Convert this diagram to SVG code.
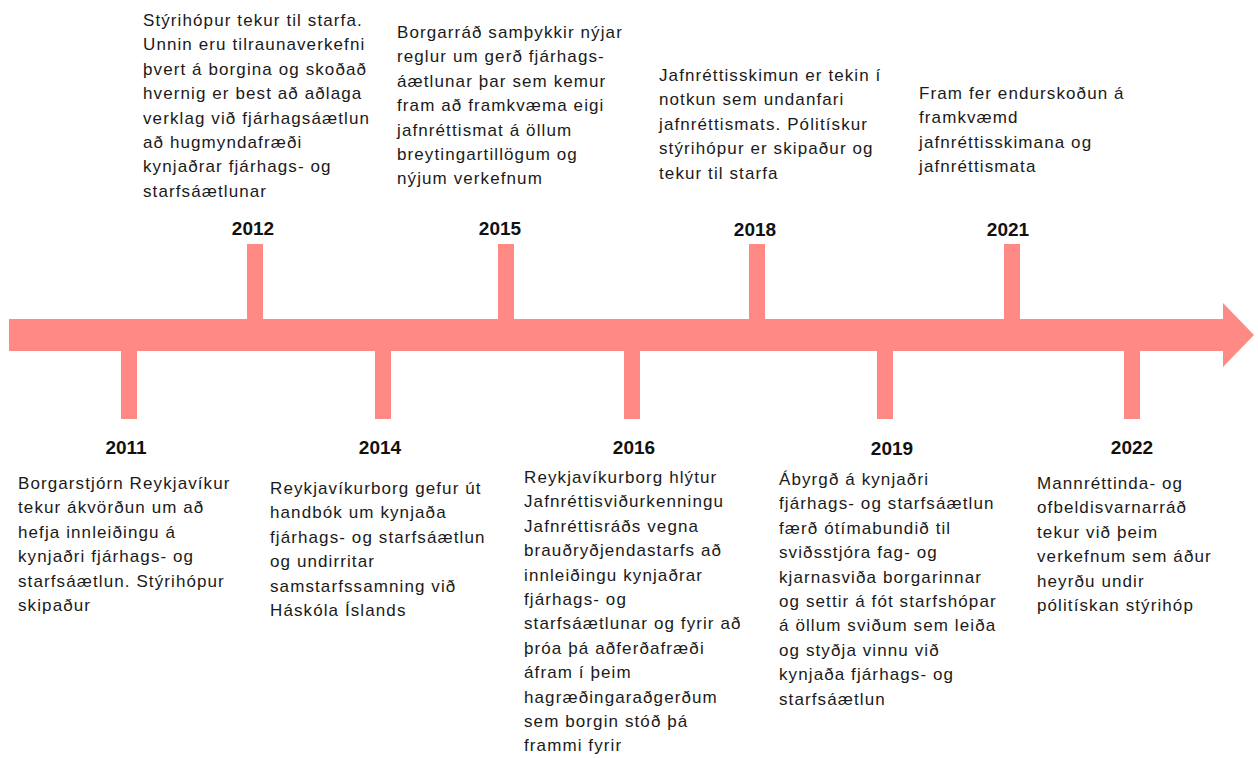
<svg xmlns="http://www.w3.org/2000/svg" width="1258" height="758" viewBox="0 0 1258 758">
<style>
.bar{fill:#FF8A85}
.yr{font-family:"Liberation Sans",Arial,sans-serif;font-size:19px;font-weight:bold;fill:#111;text-anchor:middle}
.tx{font-family:"Liberation Sans",Arial,sans-serif;font-size:17px;fill:#1a1a1a;letter-spacing:1.1px}
</style>
<rect width="1258" height="758" fill="#fff"/>
<g id="connectors">
<polygon id="timeline" class="bar" points="9,319 1223,319 1223,303 1254,335 1223,367 1223,351 9,351"/>
<rect class="bar" x="121" y="350" width="16" height="69"/>
<rect class="bar" x="247" y="244" width="16" height="76"/>
<rect class="bar" x="375" y="350" width="16" height="69"/>
<rect class="bar" x="498" y="244" width="16" height="76"/>
<rect class="bar" x="624" y="350" width="16" height="69"/>
<rect class="bar" x="749" y="244" width="16" height="76"/>
<rect class="bar" x="877" y="350" width="16" height="69"/>
<rect class="bar" x="1004" y="244" width="16" height="76"/>
<rect class="bar" x="1124" y="350" width="16" height="69"/>
</g>
<g id="n2011">
<text class="yr" x="126" y="454">2011</text>
<text class="tx" x="18" y="489"><tspan x="18">Borgarstjórn Reykjavíkur</tspan><tspan x="18" dy="24.4">tekur ákvörðun um að</tspan><tspan x="18" dy="24.4">hefja innleiðingu á</tspan><tspan x="18" dy="24.4">kynjaðri fjárhags- og</tspan><tspan x="18" dy="24.4">starfsáætlun. Stýrihópur</tspan><tspan x="18" dy="24.4">skipaður</tspan></text>
</g>
<g id="n2012">
<text class="yr" x="253" y="235">2012</text>
<text class="tx" x="143" y="26"><tspan x="143">Stýrihópur tekur til starfa.</tspan><tspan x="143" dy="24.4">Unnin eru tilraunaverkefni</tspan><tspan x="143" dy="24.4">þvert á borgina og skoðað</tspan><tspan x="143" dy="24.4">hvernig er best að aðlaga</tspan><tspan x="143" dy="24.4">verklag við fjárhagsáætlun</tspan><tspan x="143" dy="24.4">að hugmyndafræði</tspan><tspan x="143" dy="24.4">kynjaðrar fjárhags- og</tspan><tspan x="143" dy="24.4">starfsáætlunar</tspan></text>
</g>
<g id="n2014">
<text class="yr" x="380" y="454">2014</text>
<text class="tx" x="270" y="494"><tspan x="270">Reykjavíkurborg gefur út</tspan><tspan x="270" dy="24.4">handbók um kynjaða</tspan><tspan x="270" dy="24.4">fjárhags- og starfsáætlun</tspan><tspan x="270" dy="24.4">og undirritar</tspan><tspan x="270" dy="24.4">samstarfssamning við</tspan><tspan x="270" dy="24.4">Háskóla Íslands</tspan></text>
</g>
<g id="n2015">
<text class="yr" x="500" y="235">2015</text>
<text class="tx" x="397" y="38"><tspan x="397">Borgarráð samþykkir nýjar</tspan><tspan x="397" dy="24.4">reglur um gerð fjárhags-</tspan><tspan x="397" dy="24.4">áætlunar þar sem kemur</tspan><tspan x="397" dy="24.4">fram að framkvæma eigi</tspan><tspan x="397" dy="24.4">jafnréttismat á öllum</tspan><tspan x="397" dy="24.4">breytingartillögum og</tspan><tspan x="397" dy="24.4">nýjum verkefnum</tspan></text>
</g>
<g id="n2016">
<text class="yr" x="634" y="454">2016</text>
<text class="tx" x="524" y="483"><tspan x="524">Reykjavíkurborg hlýtur</tspan><tspan x="524" dy="24.4">Jafnréttisviðurkenningu</tspan><tspan x="524" dy="24.4">Jafnréttisráðs vegna</tspan><tspan x="524" dy="24.4">brauðryðjendastarfs að</tspan><tspan x="524" dy="24.4">innleiðingu kynjaðrar</tspan><tspan x="524" dy="24.4">fjárhags- og</tspan><tspan x="524" dy="24.4">starfsáætlunar og fyrir að</tspan><tspan x="524" dy="24.4">þróa þá aðferðafræði</tspan><tspan x="524" dy="24.4">áfram í þeim</tspan><tspan x="524" dy="24.4">hagræðingaraðgerðum</tspan><tspan x="524" dy="24.4">sem borgin stóð þá</tspan><tspan x="524" dy="24.4">frammi fyrir</tspan></text>
</g>
<g id="n2018">
<text class="yr" x="755" y="236">2018</text>
<text class="tx" x="659" y="81"><tspan x="659">Jafnréttisskimun er tekin í</tspan><tspan x="659" dy="24.4">notkun sem undanfari</tspan><tspan x="659" dy="24.4">jafnréttismats. Pólitískur</tspan><tspan x="659" dy="24.4">stýrihópur er skipaður og</tspan><tspan x="659" dy="24.4">tekur til starfa</tspan></text>
</g>
<g id="n2019">
<text class="yr" x="892" y="455">2019</text>
<text class="tx" x="779" y="485"><tspan x="779">Ábyrgð á kynjaðri</tspan><tspan x="779" dy="24.4">fjárhags- og starfsáætlun</tspan><tspan x="779" dy="24.4">færð ótímabundið til</tspan><tspan x="779" dy="24.4">sviðsstjóra fag- og</tspan><tspan x="779" dy="24.4">kjarnasviða borgarinnar</tspan><tspan x="779" dy="24.4">og settir á fót starfshópar</tspan><tspan x="779" dy="24.4">á öllum sviðum sem leiða</tspan><tspan x="779" dy="24.4">og styðja vinnu við</tspan><tspan x="779" dy="24.4">kynjaða fjárhags- og</tspan><tspan x="779" dy="24.4">starfsáætlun</tspan></text>
</g>
<g id="n2021">
<text class="yr" x="1008" y="236">2021</text>
<text class="tx" x="919" y="99"><tspan x="919">Fram fer endurskoðun á</tspan><tspan x="919" dy="24.4">framkvæmd</tspan><tspan x="919" dy="24.4">jafnréttisskimana og</tspan><tspan x="919" dy="24.4">jafnréttismata</tspan></text>
</g>
<g id="n2022">
<text class="yr" x="1132" y="454">2022</text>
<text class="tx" x="1037" y="489"><tspan x="1037">Mannréttinda- og</tspan><tspan x="1037" dy="24.4">ofbeldisvarnarráð</tspan><tspan x="1037" dy="24.4">tekur við þeim</tspan><tspan x="1037" dy="24.4">verkefnum sem áður</tspan><tspan x="1037" dy="24.4">heyrðu undir</tspan><tspan x="1037" dy="24.4">pólitískan stýrihóp</tspan></text>
</g>
</svg>
